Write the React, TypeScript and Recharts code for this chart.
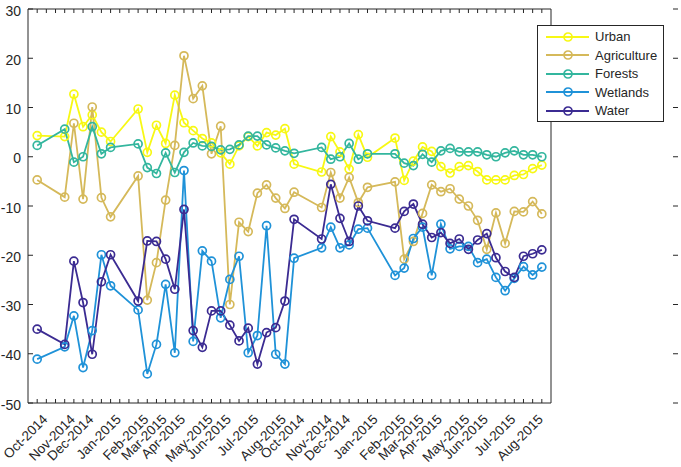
import { LineChart, Line, XAxis, YAxis, ReferenceArea, Legend } from 'recharts';

// plot frame (px inside the 681x467 svg)
const W = 681;
const H = 467;
const FRAME = { left: 28, top: 9, right: 678, bottom: 403 };
const AXIS = '#262626';
const FONT = '"Liberation Sans", Arial, Helvetica, sans-serif';

// sample positions along the x axis (two passes over the same dates)
const idx = [
  1, 4, 5, 6, 7, 8, 9, 12, 13, 14, 15, 16, 17, 18, 19, 20, 21, 22, 23, 24, 25, 26, 27, 28,
  29, 32, 33, 34, 35, 36, 37, 40, 41, 42, 43, 44, 45, 46, 47, 48, 49, 50, 51, 52, 53, 54, 55, 56,
];

const urban = [
  4.3, 4.1, 12.7, 6.1, 8.5, 5.0, 3.1, 9.7, 0.9, 6.4, 2.7, 12.5, 6.9, 5.3, 3.7, 2.8, 0.8, -1.5, 2.2, 4.1, 2.2, 4.9, 4.4, 5.7,
  -1.5, -3.1, 4.1, 1.0, -2.5, 4.5, -0.1, 3.8, -4.8, -0.9, 2.0, 1.1, -2.0, -3.3, -2.0, -1.8, -3.0, -4.7, -4.7, -4.7, -3.8, -3.6, -2.4, -1.7,
];
const agriculture = [
  -4.7, -8.2, 6.8, -8.6, 10.1, -8.3, -12.2, -3.9, -29.1, -21.5, -8.8, 2.3, 20.5, 11.8, 14.4, 0.6, 6.2, -30.0, -13.3, -15.2, -7.4, -5.7, -8.4, -10.5,
  -7.2, -10.3, -3.2, -8.4, -4.2, -9.3, -6.2, -5.1, -20.8, -17.2, -11.5, -5.7, -7.1, -6.5, -8.6, -10.0, -12.9, -18.8, -11.4, -17.6, -11.1, -11.2, -9.1, -11.6,
];
const forests = [
  2.3, 5.6, -1.1, 0.0, 6.1, 0.6, 1.9, 2.6, -2.2, -3.4, 0.8, -3.2, 0.9, 2.8, 2.2, 2.1, 1.4, 1.5, 2.4, 4.2, 4.2, 2.4, 1.8, 1.2,
  0.7, 1.9, -0.5, 0.0, 2.7, -0.5, 0.6, 0.6, -1.3, -1.8, 0.5, -1.1, 1.2, 1.7, 1.0, 1.0, 1.0, 0.4, 0.0, 0.8, 1.2, 0.4, 0.4, 0.0,
];
const wetlands = [
  -41.1, -38.6, -32.3, -42.8, -35.3, -19.9, -26.2, -31.1, -44.1, -38.1, -25.9, -39.8, -2.8, -37.5, -19.1, -21.2, -32.7, -24.9, -20.2, -39.8, -36.3, -14.0, -40.1, -42.1,
  -20.6, -18.5, -14.3, -18.5, -17.9, -14.7, -14.5, -24.1, -22.6, -16.6, -14.3, -24.1, -13.7, -18.7, -18.2, -18.2, -21.5, -20.8, -24.5, -27.2, -24.7, -22.3, -24.0, -22.4,
];
const water = [
  -35.0, -38.1, -21.2, -29.6, -40.1, -25.4, -19.9, -29.3, -17.1, -17.2, -20.8, -26.9, -10.7, -35.3, -38.7, -31.3, -31.3, -34.2, -37.4, -34.8, -42.1, -35.7, -34.7, -29.3,
  -12.7, -16.7, -5.6, -12.5, -17.2, -10.0, -13.0, -14.5, -11.1, -9.6, -13.7, -16.4, -15.4, -17.6, -16.7, -18.8, -16.9, -15.6, -20.5, -23.3, -24.5, -20.2, -19.7, -18.9,
];

// month labels and where they sit on the x axis
const monthPos = [1, 4, 6, 9, 12, 14, 16, 19, 21, 24, 27, 29, 32, 34, 37, 40, 42, 44, 47, 49, 52, 55];
const monthNames = [
  'Oct-2014', 'Nov-2014', 'Dec-2014', 'Jan-2015', 'Feb-2015', 'Mar-2015', 'Apr-2015', 'May-2015', 'Jun-2015', 'Jul-2015', 'Aug-2015',
  'Oct-2014', 'Nov-2014', 'Dec-2014', 'Jan-2015', 'Feb-2015', 'Mar-2015', 'Apr-2015', 'May-2015', 'Jun-2015', 'Jul-2015', 'Aug-2015',
];
const xMinorTicks = Array.from({ length: 56 }, (_, i) => i + 1);
const yTicks = [-50, -40, -30, -20, -10, 0, 10, 20, 30];

const series = [
  { key: 'urban', name: 'Urban', color: '#f7f814' },
  { key: 'agriculture', name: 'Agriculture', color: '#d5b95a' },
  { key: 'forests', name: 'Forests', color: '#33b69e' },
  { key: 'wetlands', name: 'Wetlands', color: '#1f92d8' },
  { key: 'water', name: 'Water', color: '#3b2b92' },
];

const rows = idx.map((x, i) => ({
  x,
  urban: urban[i],
  agriculture: agriculture[i],
  forests: forests[i],
  wetlands: wetlands[i],
  water: water[i],
}));

// inward ticks on bottom + top edge, rotated month label where one applies
function XTick({ x, payload }: any) {
  const li = monthPos.indexOf(payload.value);
  const tx = x + 8;
  const ty = FRAME.bottom + 14;
  return (
    <g>
      <line x1={x} x2={x} y1={FRAME.bottom} y2={FRAME.bottom - 4} stroke={AXIS} strokeWidth={1} />
      <line x1={x} x2={x} y1={FRAME.top} y2={FRAME.top + 4} stroke={AXIS} strokeWidth={1} />
      {li >= 0 && (
        <text
          x={tx}
          y={ty}
          transform={`rotate(-45 ${tx} ${ty})`}
          textAnchor="end"
          dominantBaseline="central"
          fill={AXIS}
          fontSize={13.5}
          fontFamily={FONT}
        >
          {monthNames[li]}
        </text>
      )}
    </g>
  );
}

// inward ticks on left + right edge with the value label
function YTick({ y, payload }: any) {
  return (
    <g>
      <line x1={FRAME.left} x2={FRAME.left + 5} y1={y} y2={y} stroke={AXIS} strokeWidth={1} />
      <line x1={FRAME.right} x2={FRAME.right - 5} y1={y} y2={y} stroke={AXIS} strokeWidth={1} />
      <text
        x={FRAME.left - 7}
        y={y + 1.5}
        textAnchor="end"
        dominantBaseline="central"
        fill={AXIS}
        fontSize={14}
        fontFamily={FONT}
      >
        {payload.value}
      </text>
    </g>
  );
}

function LegendBox() {
  return (
    <div
      style={{
        width: 127,
        height: 97,
        boxSizing: 'border-box',
        border: `1px solid ${AXIS}`,
        background: '#fff',
        position: 'relative',
      }}
    >
      {series.map((s, i) => (
        <div
          key={s.key}
          style={{ position: 'absolute', left: 0, top: 1.5 + i * 18.5, height: 18, display: 'flex', alignItems: 'center' }}
        >
          <svg width={57} height={18} style={{ display: 'block' }}>
            <line x1={8} x2={51} y1={9} y2={9} stroke={s.color} strokeWidth={1.8} />
            <circle cx={30} cy={9} r={4} fill="none" stroke={s.color} strokeWidth={1.7} />
          </svg>
          <span style={{ fontFamily: FONT, fontSize: 13, color: AXIS, whiteSpace: 'nowrap' }}>{s.name}</span>
        </div>
      ))}
    </div>
  );
}

export default function App() {
  return (
    <div style={{ position: 'absolute', left: 0, top: 0, width: W, height: H, background: '#fff' }}>
      <LineChart
        width={W}
        height={H}
        data={rows}
        margin={{ top: FRAME.top, right: W - FRAME.right, bottom: 0, left: 0 }}
      >
        <XAxis
          dataKey="x"
          type="number"
          domain={[0, 57]}
          ticks={xMinorTicks}
          interval={0}
          height={H - FRAME.bottom}
          axisLine={false}
          tickLine={false}
          tick={(p: any) => <XTick {...p} />}
        />
        <YAxis
          type="number"
          domain={[-50, 30]}
          ticks={yTicks}
          interval={0}
          width={FRAME.left}
          axisLine={false}
          tickLine={false}
          tick={(p: any) => <YTick {...p} />}
        />
        <ReferenceArea x1={0} x2={57} y1={-50} y2={30} fill="none" stroke={AXIS} strokeWidth={1} ifOverflow="visible" />
        {series.map((s) => (
          <Line
            key={s.key}
            dataKey={s.key}
            name={s.name}
            type="linear"
            stroke={s.color}
            strokeWidth={1.8}
            dot={{ r: 4, fill: 'none', stroke: s.color, strokeWidth: 1.7 }}
            activeDot={false}
            isAnimationActive={false}
          />
        ))}
        <Legend
          layout="horizontal"
          verticalAlign="middle"
          align="right"
          wrapperStyle={{ left: 537, top: 25, width: 127, height: 97, right: 'auto', bottom: 'auto' }}
          content={() => <LegendBox />}
        />
      </LineChart>
    </div>
  );
}
